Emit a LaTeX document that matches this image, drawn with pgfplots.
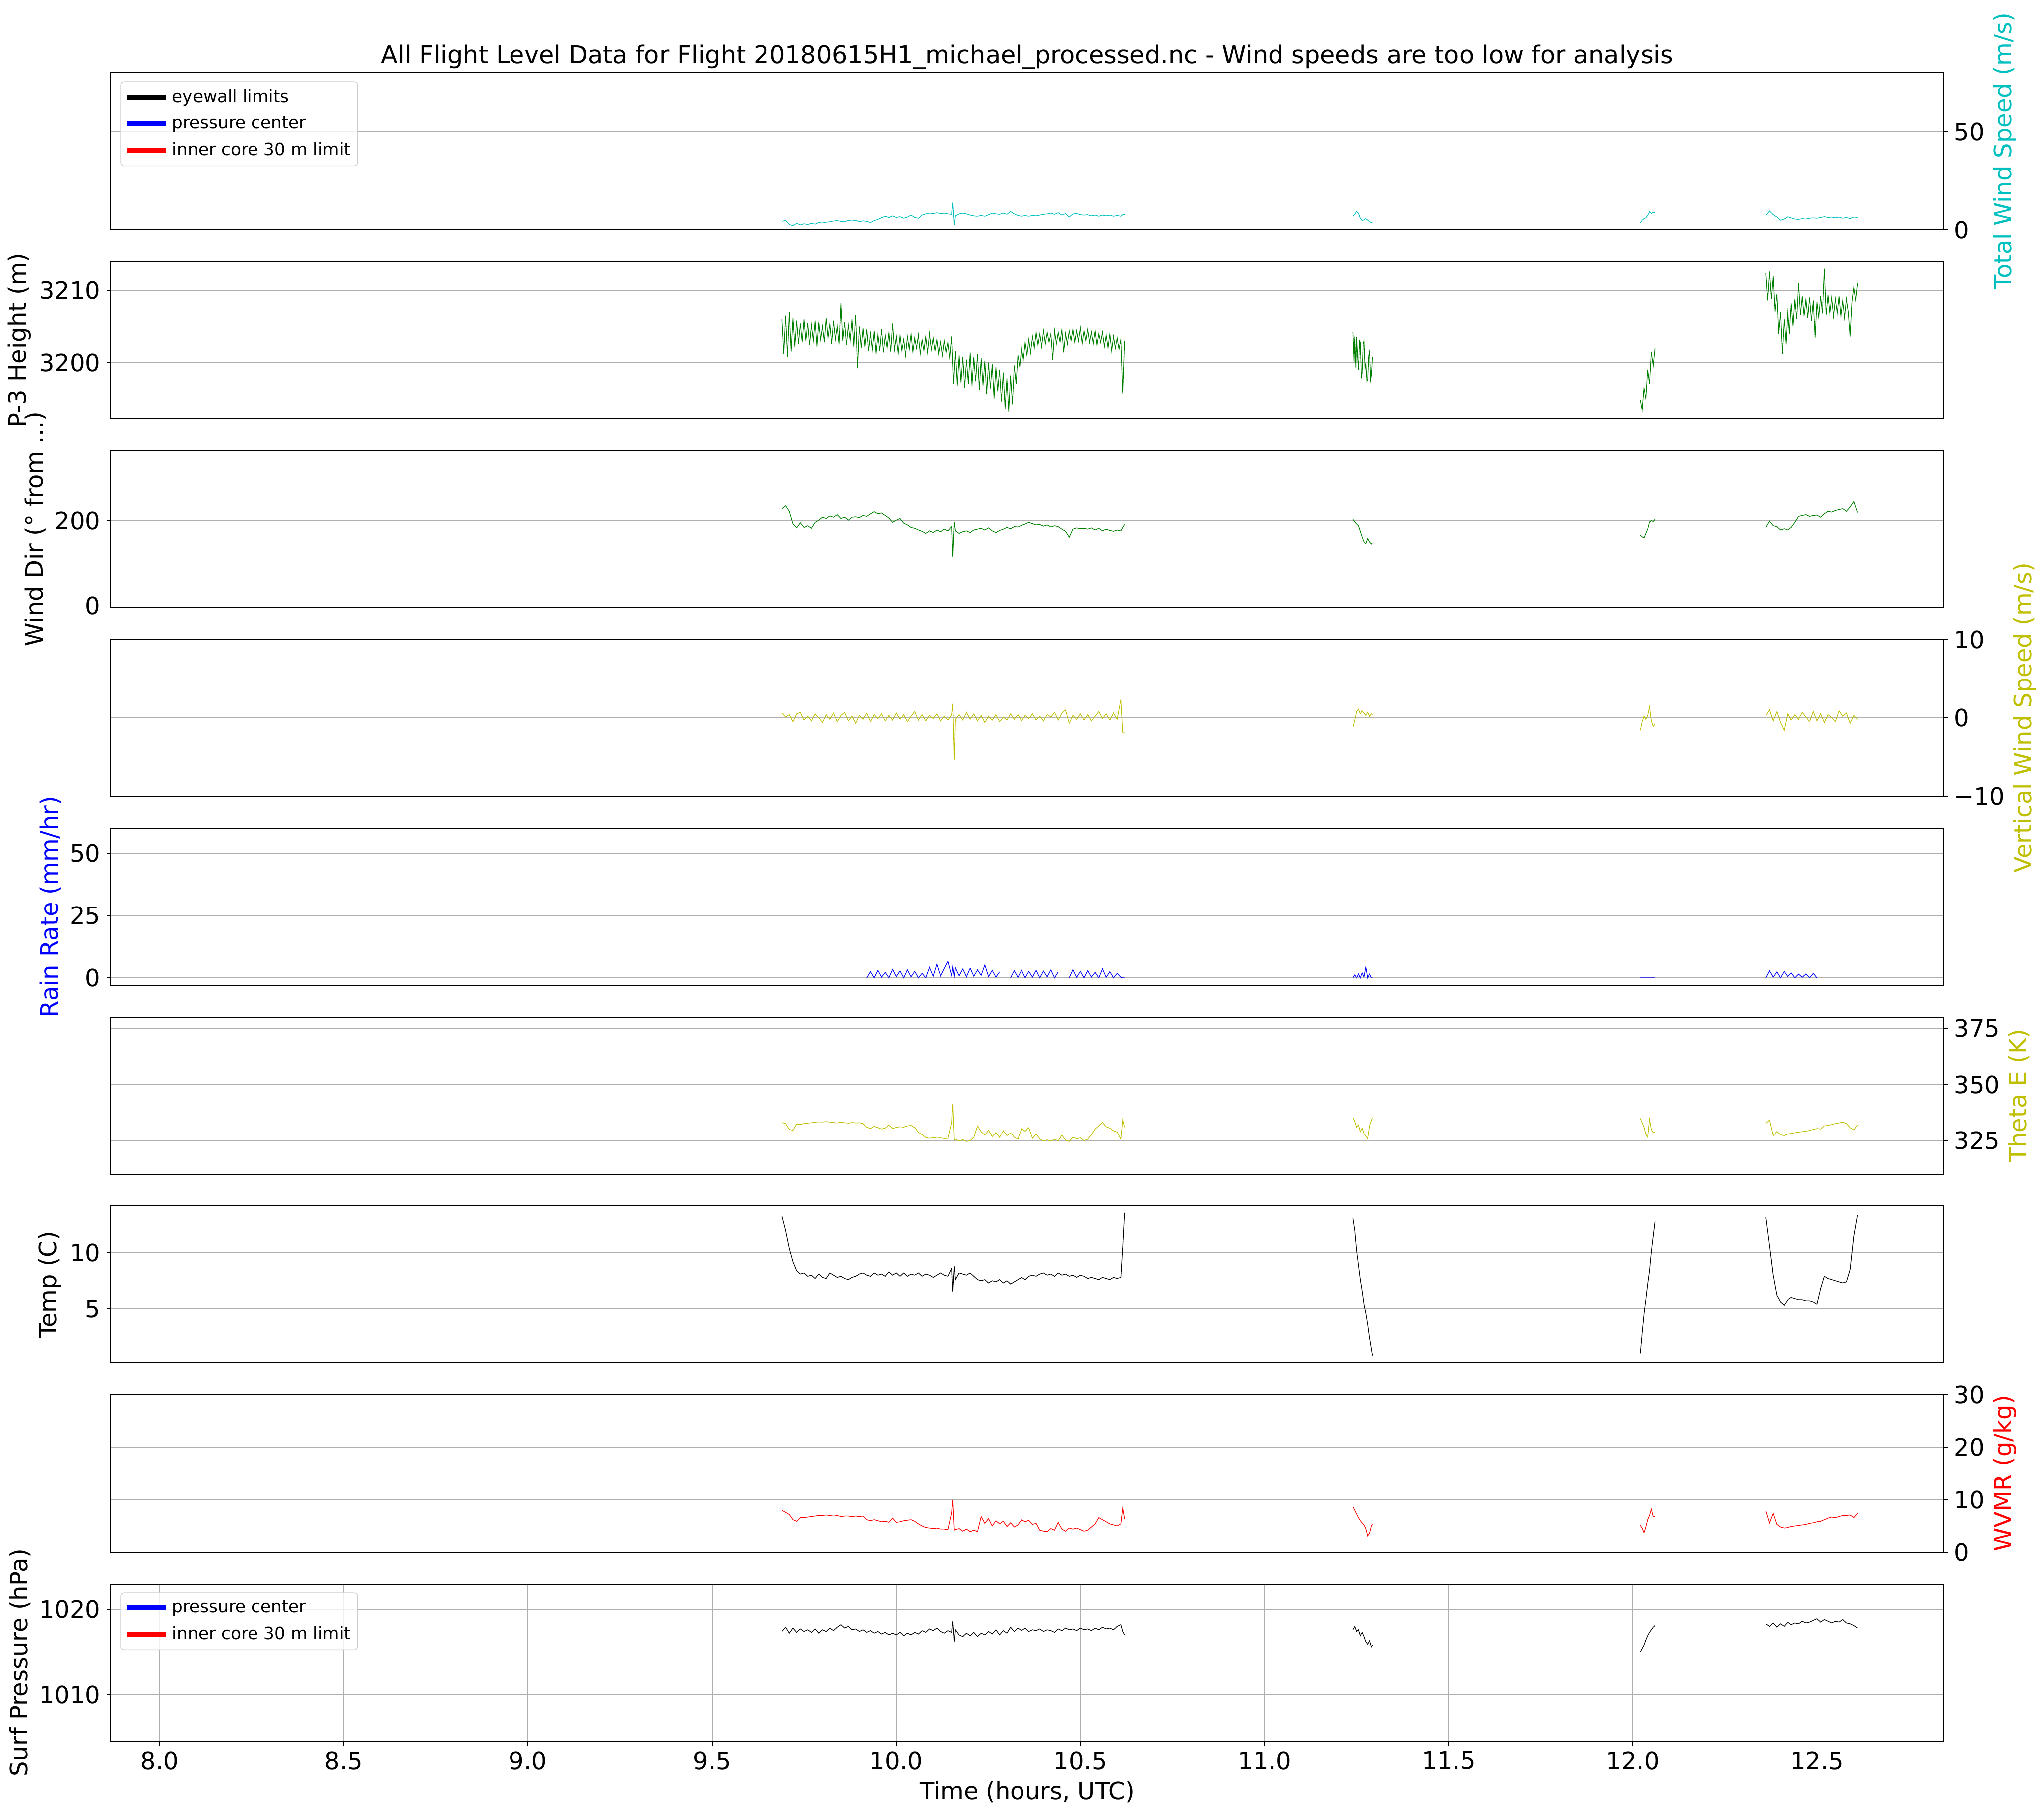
\documentclass[border=0pt]{standalone}
\usepackage{fontspec}
\setmainfont{DejaVu Sans}
\usepackage{pgfplots}
\usepackage{pgfplotstable}
\pgfplotsset{compat=1.18}

\newcommand{\fs}{\fontsize{14}{16.8}\selectfont}
\newcommand{\tfs}{\fontsize{14.4}{17}\selectfont}
\newcommand{\lfs}{\fontsize{10}{12}\selectfont}
\definecolor{mplc}{rgb}{0,0.75,0.75}
\definecolor{mplg}{rgb}{0,0.5,0}
\definecolor{mply}{rgb}{0.75,0.75,0}
\definecolor{gridgray}{HTML}{B0B0B0}
\definecolor{legedge}{HTML}{CCCCCC}

\pgfplotstableread{
t ws ht wd vw rr te tc wv ps
9.69 4.4 3206.0 228 0.6 nan 333.1 13.3 8.0 1017.4
9.70 5.0 3201.0 235 0.1 nan 332.6 12.0 7.6 1017.9
9.71 2.8 3206.8 222 0.4 nan 330.0 10.4 7.2 1017.2
9.72 2.2 3202.0 192 -0.5 nan 329.6 9.2 6.2 1017.8
9.73 3.4 3205.5 183 0.5 nan 332.4 8.4 5.9 1017.3
9.74 2.6 3203.0 195 0.7 nan 332.2 8.1 6.6 1017.7
9.75 3.2 3205.8 184 -0.3 nan 332.6 8.2 6.6 1017.4
9.76 2.8 3203.2 188 0.2 nan 332.8 7.9 6.7 1017.6
9.77 3.4 3205.0 182 -0.4 nan 333.0 8.0 6.8 1017.3
9.78 3.0 3202.5 196 0.5 nan 333.2 7.7 6.9 1017.7
9.79 3.8 3205.6 201 0.0 nan 333.4 8.1 7.0 1017.2
9.80 3.6 3203.4 208 -0.6 nan 333.3 7.8 7.0 1017.6
9.81 4.0 3206.0 205 0.4 nan 333.5 7.7 7.1 1017.4
9.82 4.2 3202.8 211 -0.2 nan 333.3 8.2 7.0 1017.8
9.83 4.6 3205.2 208 0.6 nan 333.1 8.0 6.9 1017.5
9.84 4.8 3203.6 214 -0.5 nan 332.9 7.8 7.0 1017.9
9.85 4.4 3207.8 205 0.3 nan 333.2 7.9 6.8 1018.2
9.86 4.2 3202.6 208 0.7 nan 333.0 7.7 6.9 1017.8
9.87 4.9 3205.4 201 -0.4 nan 332.8 7.6 6.9 1018.0
9.88 4.6 3203.0 208 0.2 nan 333.1 7.8 6.8 1017.6
9.89 5.0 3206.5 209 -0.7 nan 332.9 7.9 6.9 1017.7
9.90 4.2 3199.5 207 0.3 nan 333.0 8.1 6.8 1017.4
9.91 4.7 3204.8 212 -0.2 nan 332.6 8.2 6.9 1017.6
9.92 4.4 3202.4 210 0.6 0 331.0 8.0 6.2 1017.3
9.93 3.8 3204.6 216 -0.5 2.5 330.4 7.9 6.0 1017.5
9.94 4.8 3201.8 221 0.4 0 331.4 8.2 6.2 1017.2
9.95 5.4 3203.9 216 -0.1 3.0 330.8 8.0 6.0 1017.4
9.96 6.3 3201.6 218 0.5 0.3 330.2 8.1 5.8 1017.1
9.97 7.0 3203.5 212 -0.4 2.2 330.6 7.9 5.9 1017.3
9.98 6.4 3201.9 206 0.3 0 331.9 8.3 5.7 1017.0
9.99 7.2 3205.2 196 -0.3 3.4 330.4 8.0 6.5 1017.2
10.00 6.4 3201.5 201 0.6 0.5 330.9 8.2 5.7 1017.0
10.01 6.8 3203.8 205 -0.2 2.8 331.2 7.9 5.8 1017.3
10.02 6.0 3201.7 194 0.4 0 331.0 8.2 6.0 1016.9
10.03 6.6 3203.4 190 -0.5 3.2 331.6 7.9 6.1 1017.2
10.04 7.6 3202.0 184 0.2 0.4 331.8 8.1 6.2 1017.0
10.05 6.4 3203.6 182 0.8 2.6 330.8 8.0 5.9 1017.3
10.06 6.0 3201.6 178 -0.3 0 328.8 8.2 5.4 1017.1
10.07 7.6 3203.3 175 0.4 1.8 327.6 7.9 5.0 1017.5
10.08 8.2 3201.4 170 -0.4 0 326.4 8.1 4.7 1017.3
10.09 8.6 3203.8 176 0.3 4.2 326.0 8.0 4.6 1017.7
10.10 8.4 3201.9 172 -0.1 0.6 326.3 7.8 4.5 1017.5
10.11 8.8 3203.2 178 0.5 5.5 326.1 8.0 4.6 1017.8
10.12 8.4 3202.0 174 -0.4 0.8 326.2 8.2 4.4 1017.4
10.13 8.6 3203.0 180 0.2 3.8 325.9 8.0 4.4 1017.2
10.14 8.2 3201.8 176 -0.3 6.6 326.0 7.9 4.3 1017.5
10.15 8.0 3203.6 186 0.4 1.0 333.0 8.6 7.5 1017.3
10.153 14.0 3199.0 114 1.8 4.5 341.5 6.5 10.0 1018.6
10.157 2.6 3204.4 197 -5.4 0.5 325.2 8.8 4.2 1016.2
10.16 7.2 3197.5 176 -0.2 4.0 325.6 7.6 4.3 1017.6
10.17 8.2 3201.0 170 0.4 0.8 324.8 8.2 4.5 1017.0
10.18 8.6 3197.0 174 -0.3 3.6 325.4 8.1 4.0 1016.8
10.19 8.2 3200.5 176 0.7 0.4 324.6 8.0 4.4 1017.2
10.20 7.6 3197.6 172 -0.2 3.9 325.0 8.2 3.9 1016.9
10.21 7.2 3200.6 178 0.5 0.6 326.5 7.9 4.2 1017.3
10.22 7.0 3197.2 180 -0.4 3.2 331.5 7.6 3.9 1016.8
10.23 7.4 3201.2 182 0.3 1.0 329.0 7.5 6.8 1017.2
10.24 7.0 3196.5 178 -0.6 5.2 327.5 7.6 5.5 1017.0
10.25 7.8 3200.0 183 0.2 0.5 329.6 7.3 6.4 1017.4
10.26 8.6 3196.8 176 -0.3 3.0 326.8 7.5 5.0 1017.1
10.27 8.2 3199.8 172 0.4 0.3 328.6 7.4 6.0 1017.6
10.28 8.0 3195.5 177 -0.5 2.4 326.4 7.6 5.4 1017.0
10.29 8.6 3199.0 180 0.1 nan 329.4 7.3 5.9 1017.5
10.30 8.0 3193.2 184 -0.3 nan 327.2 7.5 4.9 1017.2
10.31 9.4 3198.0 181 0.5 0 328.4 7.2 5.6 1017.9
10.32 8.2 3194.5 186 -0.2 2.9 326.5 7.4 4.8 1017.4
10.33 7.4 3200.4 185 0.4 0.2 325.6 7.6 5.2 1017.8
10.34 7.0 3201.6 189 -0.4 3.1 330.4 7.8 6.2 1017.5
10.35 7.4 3202.8 192 0.3 0 329.2 7.6 5.8 1017.8
10.36 7.0 3201.4 196 -0.1 2.6 330.8 7.9 6.1 1017.4
10.37 7.4 3203.6 193 0.5 0.3 326.0 8.0 5.3 1017.6
10.38 7.2 3202.0 190 -0.3 3.0 327.8 7.9 5.5 1017.5
10.39 7.6 3204.0 191 0.2 0 325.8 8.1 4.2 1017.7
10.40 8.0 3201.5 187 -0.4 2.7 324.8 8.2 4.0 1017.4
10.41 8.2 3204.3 190 0.4 0.4 325.3 8.0 3.9 1017.6
10.42 8.6 3202.5 185 0.1 3.2 324.7 8.1 4.5 1017.5
10.43 8.0 3200.4 188 0.7 0 325.6 7.9 4.2 1017.3
10.44 8.8 3204.2 186 -0.3 2.4 324.9 8.2 5.7 1017.7
10.45 7.6 3202.4 180 0.6 nan 327.4 8.0 4.4 1017.5
10.46 8.4 3201.2 175 1.0 nan 325.2 8.1 4.0 1017.8
10.47 6.6 3204.4 161 -0.7 0 324.6 7.9 4.6 1017.6
10.48 8.2 3202.8 180 0.3 3.3 326.4 8.0 4.4 1017.7
10.49 8.4 3204.6 183 -0.2 0.2 325.8 7.8 4.6 1017.5
10.50 7.8 3203.0 181 0.5 2.6 326.2 8.0 4.3 1017.8
10.51 7.6 3204.5 182 -0.3 0 325.0 7.9 4.0 1017.6
10.52 7.8 3202.9 180 0.4 2.9 325.6 7.7 4.2 1017.7
10.53 7.2 3204.6 183 -0.4 0.3 327.6 7.8 4.8 1017.5
10.54 7.6 3203.0 178 0.2 2.2 330.2 7.7 5.4 1017.8
10.55 7.0 3204.2 182 0.8 0 331.6 7.6 6.6 1017.6
10.56 7.6 3202.5 176 -0.1 3.6 333.1 7.8 6.2 1017.9
10.57 7.2 3204.0 180 0.5 0.2 331.2 7.7 5.8 1017.7
10.58 7.6 3202.2 177 -0.3 2.5 330.6 7.6 5.4 1017.8
10.59 7.0 3203.8 175 0.6 0 329.4 7.8 5.2 1017.6
10.60 7.4 3201.8 178 -0.2 1.8 328.8 7.7 5.0 1018.0
10.61 7.0 3203.4 176 2.3 0.2 325.6 7.8 5.4 1018.2
10.615 7.8 3195.7 184 -1.9 0 334.2 10.5 8.4 1017.4
10.62 8.0 3203.0 191 -1.9 0 331.0 13.6 6.4 1017.0
10.9 nan nan nan nan nan nan nan nan nan
11.240 7.0 3204.2 203 -1.2 0 335.3 13.1 8.7 1017.6
11.245 8.0 3200.5 197 -0.3 1.2 333.5 12.0 8.0 1018.0
11.250 9.5 3203.5 192 0.8 0 331.0 10.2 7.3 1017.4
11.255 8.6 3199.0 188 1.1 1.5 332.0 8.9 6.6 1017.6
11.260 6.0 3202.8 175 0.5 0 329.0 7.6 6.0 1016.9
11.265 4.8 3198.5 162 0.9 2.0 330.6 6.6 5.6 1017.3
11.270 5.2 3203.0 150 0.6 0.3 328.2 5.4 5.2 1016.8
11.275 5.8 3200.0 146 0.3 4.4 327.0 4.6 4.5 1016.2
11.280 5.0 3197.6 158 0.7 0 325.8 3.6 3.1 1015.9
11.285 4.2 3201.5 150 0.2 1.5 331.5 2.4 3.6 1016.3
11.290 3.8 3198.2 145 0.5 0 334.0 1.4 5.0 1015.6
11.293 3.6 3200.8 148 0.4 0 335.3 0.8 5.4 1015.8
11.6 nan nan nan nan nan nan nan nan nan
12.020 3.6 3194.8 166 -1.6 0 334.9 1.0 5.1 1015.0
12.025 5.0 3193.4 162 -0.5 0 333.0 2.8 4.6 1015.4
12.030 5.8 3196.5 159 0.2 0 331.0 4.5 3.7 1015.8
12.035 6.2 3195.0 170 -0.2 0 328.0 5.8 4.8 1016.4
12.040 7.4 3199.0 180 0.3 0 326.5 7.2 6.2 1016.9
12.045 9.3 3197.0 197 1.4 0 334.5 8.4 7.0 1017.3
12.050 8.4 3201.5 200 -0.4 0 330.0 10.1 8.2 1017.6
12.055 9.0 3199.5 198 -1.1 0 328.5 11.5 6.8 1017.9
12.060 8.8 3202.0 203 -0.8 0 329.0 12.8 6.8 1018.1
12.2 nan nan nan nan nan nan nan nan nan
12.36 7.4 3212.4 184 0.3 0 332.7 13.2 7.9 1018.3
12.37 9.7 3209.0 199 1.0 2.8 334.2 10.6 5.6 1018.0
12.38 7.8 3212.0 188 -0.4 0.3 327.2 8.0 7.4 1018.4
12.39 6.6 3207.5 186 0.8 2.4 329.1 6.2 5.3 1017.9
12.40 5.0 3203.5 178 -0.6 0 327.6 5.6 4.8 1018.3
12.41 5.6 3201.2 181 -1.6 2.6 327.2 5.3 4.6 1018.0
12.42 6.8 3206.5 178 0.6 0.4 328.0 5.8 4.7 1018.5
12.43 6.2 3204.0 184 -0.3 2.0 328.2 6.0 4.9 1018.2
12.44 5.6 3208.2 196 0.4 0 328.5 5.9 5.0 1018.4
12.45 5.4 3206.8 210 -0.2 1.5 328.8 5.8 5.1 1018.3
12.46 5.8 3211.0 212 0.7 0.2 329.0 5.8 5.2 1018.6
12.47 5.6 3207.0 214 0.1 1.6 329.2 5.7 5.3 1018.4
12.48 6.0 3208.6 210 -0.5 0 329.6 5.7 5.5 1018.5
12.49 6.2 3206.5 212 0.8 1.8 330.0 5.6 5.6 1018.7
12.50 6.0 3203.4 213 -0.4 0 330.4 5.4 5.8 1018.9
12.51 6.4 3209.0 208 0.5 nan 330.2 6.8 5.9 1018.5
12.52 6.8 3213.0 216 -0.6 nan 331.6 7.9 6.2 1018.8
12.53 6.4 3207.2 222 0.4 nan 331.8 7.7 6.5 1018.6
12.54 6.6 3209.4 220 0.0 nan 332.2 7.6 6.7 1018.4
12.55 6.2 3207.0 224 -0.5 nan 332.6 7.5 6.6 1018.6
12.56 6.6 3208.8 226 0.9 nan 332.9 7.4 6.8 1018.5
12.57 6.0 3206.8 228 0.2 nan 333.3 7.3 7.0 1018.8
12.58 6.4 3208.4 222 0.6 nan 332.6 7.4 7.0 1018.4
12.59 5.8 3203.6 232 -0.7 nan 330.8 8.5 7.1 1018.3
12.60 6.6 3210.0 245 0.3 nan 329.8 11.5 6.6 1018.1
12.61 6.4 3211.0 219 -0.2 nan 332.0 13.4 7.4 1017.8
}\data

\pgfplotstableread{
t ht
9.690 3206.0
9.695 3201.2
9.700 3206.5
9.705 3200.8
9.710 3207.0
9.715 3201.5
9.720 3206.2
9.725 3202.2
9.730 3205.8
9.735 3202.6
9.740 3205.4
9.745 3202.8
9.750 3206.0
9.755 3203.0
9.760 3205.5
9.765 3202.4
9.770 3205.2
9.775 3203.0
9.780 3205.8
9.785 3202.2
9.790 3205.6
9.795 3203.2
9.800 3205.0
9.805 3202.8
9.810 3206.2
9.815 3203.4
9.820 3205.4
9.825 3202.6
9.830 3205.8
9.835 3203.2
9.840 3205.0
9.845 3202.5
9.850 3208.2
9.855 3203.0
9.860 3205.6
9.865 3202.4
9.870 3205.2
9.875 3203.0
9.880 3206.0
9.885 3202.2
9.890 3206.6
9.895 3199.2
9.900 3205.0
9.905 3202.0
9.910 3204.8
9.915 3202.2
9.920 3204.6
9.925 3201.6
9.930 3204.0
9.935 3201.8
9.940 3204.4
9.945 3201.2
9.950 3203.9
9.955 3201.6
9.960 3204.6
9.965 3201.4
9.970 3203.8
9.975 3202.0
9.980 3204.2
9.985 3201.5
9.990 3205.4
9.995 3201.8
10.000 3203.6
10.005 3201.2
10.010 3203.8
10.015 3201.6
10.020 3203.2
10.025 3201.0
10.030 3203.6
10.035 3201.8
10.040 3204.0
10.045 3201.4
10.050 3203.4
10.055 3202.0
10.060 3203.8
10.065 3201.2
10.070 3203.2
10.075 3201.6
10.080 3203.6
10.085 3201.4
10.090 3204.0
10.095 3201.8
10.100 3203.4
10.105 3201.6
10.110 3203.2
10.115 3201.2
10.120 3202.8
10.125 3201.0
10.130 3203.0
10.135 3201.4
10.140 3202.8
10.145 3200.6
10.150 3203.6
10.155 3197.0
10.160 3201.6
10.165 3196.8
10.170 3201.0
10.175 3197.2
10.180 3200.8
10.185 3196.5
10.190 3200.4
10.195 3197.0
10.200 3201.4
10.205 3196.8
10.210 3200.8
10.215 3197.4
10.220 3201.2
10.225 3196.2
10.230 3200.6
10.235 3196.8
10.240 3200.2
10.245 3195.6
10.250 3200.0
10.255 3196.4
10.260 3199.8
10.265 3195.0
10.270 3199.4
10.275 3196.0
10.280 3199.0
10.285 3194.6
10.290 3198.6
10.295 3193.6
10.300 3197.8
10.305 3193.2
10.310 3198.2
10.315 3194.2
10.320 3199.6
10.325 3197.0
10.330 3201.0
10.335 3199.4
10.340 3202.0
10.345 3200.4
10.350 3202.8
10.355 3201.0
10.360 3203.2
10.365 3201.4
10.370 3203.6
10.375 3202.0
10.380 3204.2
10.385 3202.4
10.390 3204.0
10.395 3202.2
10.400 3204.4
10.405 3202.6
10.410 3204.2
10.415 3202.8
10.420 3204.0
10.425 3200.4
10.430 3204.4
10.435 3202.6
10.440 3204.2
10.445 3202.8
10.450 3204.6
10.455 3201.4
10.460 3204.0
10.465 3202.6
10.470 3204.4
10.475 3203.0
10.480 3204.6
10.485 3202.8
10.490 3204.4
10.495 3203.0
10.500 3204.8
10.505 3202.6
10.510 3204.4
10.515 3203.0
10.520 3204.6
10.525 3202.8
10.530 3204.2
10.535 3202.6
10.540 3204.4
10.545 3202.4
10.550 3204.0
10.555 3202.8
10.560 3204.2
10.565 3202.2
10.570 3203.8
10.575 3202.0
10.580 3204.0
10.585 3201.6
10.590 3203.6
10.595 3202.0
10.600 3203.4
10.605 3201.8
10.610 3203.2
10.615 3195.7
10.620 3203.0
10.9 nan
11.240 3204.2
11.243 3200.0
11.245 3203.6
11.248 3199.2
11.250 3203.5
11.253 3200.6
11.255 3199.0
11.258 3203.0
11.260 3202.8
11.263 3198.0
11.265 3198.5
11.268 3202.6
11.270 3203.0
11.273 3199.0
11.275 3200.0
11.278 3197.4
11.280 3197.6
11.283 3201.0
11.285 3201.5
11.288 3197.6
11.290 3198.2
11.293 3200.8
11.6 nan
12.020 3194.8
12.025 3193.4
12.030 3196.5
12.035 3195.0
12.040 3199.0
12.045 3197.0
12.050 3201.5
12.055 3199.5
12.060 3202.0
12.2 nan
12.360 3212.4
12.365 3208.6
12.370 3212.6
12.375 3208.8
12.380 3212.0
12.385 3207.0
12.390 3209.5
12.395 3204.0
12.400 3207.0
12.405 3201.2
12.410 3206.0
12.415 3202.5
12.420 3207.5
12.425 3204.0
12.430 3208.2
12.435 3205.0
12.440 3208.8
12.445 3206.0
12.450 3211.0
12.455 3206.6
12.460 3209.2
12.465 3206.4
12.470 3208.8
12.475 3206.2
12.480 3209.0
12.485 3205.8
12.490 3208.6
12.495 3203.4
12.500 3208.4
12.505 3206.2
12.510 3209.2
12.515 3206.8
12.520 3213.0
12.525 3206.6
12.530 3209.4
12.535 3206.8
12.540 3209.0
12.545 3206.4
12.550 3208.8
12.555 3206.8
12.560 3209.2
12.565 3206.4
12.570 3208.6
12.575 3206.2
12.580 3208.8
12.585 3207.0
12.590 3203.6
12.595 3208.4
12.600 3210.4
12.605 3208.6
12.610 3211.0
}\hdata

\pgfplotsset{
  panel/.style={
    scale only axis, width=1071.5pt, height=91.9pt,
    xmin=7.868, xmax=12.843, xtick=\empty,
    anchor=north west,
    axis line style={line width=0.55pt},
    ymajorgrids, grid style={gridgray, line width=0.5pt},
    tick align=outside, major tick length=2.6pt,
    major tick style={line width=0.5pt, black},
    tick label style={font=\fs},
    label style={font=\fs},
    ylabel style={inner sep=1.5pt},
    title style={font=\tfs, yshift=-7.5pt},
    /pgf/number format/assume math mode=true,
    scaled y ticks=false,
    unbounded coords=jump,
    legend cell align=left,
    legend image code/.code={\draw[##1] (0pt,0pt) -- (23pt,0pt);},
    legend style={at={(0,1)}, anchor=north west, xshift=5.5pt, yshift=-5.2pt,
      draw=legedge, line width=0.4pt, rounded corners=2pt, fill=white,
      fill opacity=0.8, text opacity=1, font=\lfs, row sep=2.7pt,
      inner xsep=2pt, inner ysep=2.5pt},
  },
  ptl/.style={ytick pos=left},
  ptr/.style={ytick pos=right, yticklabel pos=right},
  dl/.style={line width=0.4pt, forget plot},
}

\begin{document}
\begin{tikzpicture}
% 1 total wind speed
\begin{axis}[panel, ptr, at={(0pt,0pt)},
  ymin=0, ymax=80, ytick={0,50}, yticklabels={0,50},
  ylabel={Total Wind Speed (m/s)}, ylabel style={color=mplc},
  title={All Flight Level Data for Flight 20180615H1\_michael\_processed.nc - Wind speeds are too low for analysis}]
\addlegendimage{black, line width=3pt}\addlegendentry{eyewall limits}
\addlegendimage{blue, line width=3pt}\addlegendentry{pressure center}
\addlegendimage{red, line width=3pt}\addlegendentry{inner core 30 m limit}
\addplot[mplc, dl] table[x=t, y=ws] {\data};
\end{axis}
% 2 height
\begin{axis}[panel, ptl, at={(0pt,-110.48pt)},
  ymin=3192.2, ymax=3214, ytick={3200,3210}, yticklabels={3200,3210},
  ylabel={P-3 Height (m)}]
\addplot[mplg, dl] table[x=t, y=ht] {\hdata};
\end{axis}
% 3 wind dir
\begin{axis}[panel, ptl, at={(0pt,-220.96pt)},
  ymin=-4, ymax=365, ytick={0,200}, yticklabels={0,200},
  ylabel={Wind Dir (° from ...)}]
\addplot[mplg, dl] table[x=t, y=wd] {\data};
\end{axis}
% 4 vertical wind
\begin{axis}[panel, ptr, at={(0pt,-331.44pt)},
  ymin=-10, ymax=10, ytick={-10,0,10}, yticklabels={−10,0,10},
  ylabel={Vertical Wind Speed (m/s)}, ylabel style={color=mply}]
\addplot[mply, dl] table[x=t, y=vw] {\data};
\end{axis}
% 5 rain rate
\begin{axis}[panel, ptl, at={(0pt,-441.92pt)},
  ymin=-3, ymax=60, ytick={0,25,50}, yticklabels={0,25,50},
  ylabel={Rain Rate (mm/hr)}, ylabel style={color=blue}]
\addplot[blue, dl] table[x=t, y=rr] {\data};
\end{axis}
% 6 theta e
\begin{axis}[panel, ptr, at={(0pt,-552.40pt)},
  ymin=310, ymax=380, ytick={325,350,375}, yticklabels={325,350,375},
  ylabel={Theta E (K)}, ylabel style={color=mply}]
\addplot[mply, dl] table[x=t, y=te] {\data};
\end{axis}
% 7 temp
\begin{axis}[panel, ptl, at={(0pt,-662.88pt)},
  ymin=0.1, ymax=14.2, ytick={5,10}, yticklabels={5,10},
  ylabel={Temp (C)}]
\addplot[black, dl] table[x=t, y=tc] {\data};
\end{axis}
% 8 wvmr
\begin{axis}[panel, ptr, at={(0pt,-773.36pt)},
  ymin=0, ymax=30, ytick={0,10,20,30}, yticklabels={0,10,20,30},
  ylabel={WVMR (g/kg)}, ylabel style={color=red}]
\addplot[red, dl] table[x=t, y=wv] {\data};
\end{axis}
% 9 surface pressure
\begin{axis}[panel, ptl, at={(0pt,-883.84pt)},
  ymin=1004.6, ymax=1023, ytick={1010,1020}, yticklabels={1010,1020},
  xtick={8,8.5,9,9.5,10,10.5,11,11.5,12,12.5},
  xticklabels={8.0,8.5,9.0,9.5,10.0,10.5,11.0,11.5,12.0,12.5},
  xtick pos=left, xmajorgrids,
  xlabel={Time (hours, UTC)},
  ylabel={Surf Pressure (hPa)}]
\addlegendimage{blue, line width=3pt}\addlegendentry{pressure center}
\addlegendimage{red, line width=3pt}\addlegendentry{inner core 30 m limit}
\addplot[black, dl] table[x=t, y=ps] {\data};
\end{axis}
\pgfresetboundingbox
\path[use as bounding box] (-64.9pt,42.5pt) rectangle (1130.3pt,-1018.2pt);
\end{tikzpicture}
\end{document}
